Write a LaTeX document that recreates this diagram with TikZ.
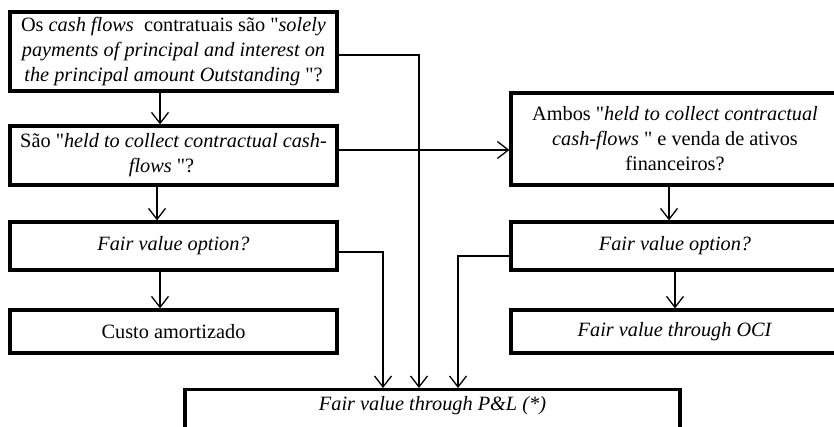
\documentclass[tikz,border=0pt]{standalone}
\usepackage{fontspec}
\setmainfont{Liberation Serif}
\usetikzlibrary{arrows.meta}
\newcommand{\qq}{\textquotedbl}
\begin{document}
\begin{tikzpicture}[x=1pt,y=-1pt,
  box/.style={draw, line width=3.2pt, minimum width=327pt, inner sep=0pt,
    align=center, font=\fontsize{20.3}{25}\selectfont},
  conn/.style={line width=1.3pt},
  arr/.style={line width=1.3pt, -{Straight Barb[length=11pt,width=17pt,line width=1.3pt]}}]
\useasboundingbox (0,0) rectangle (834,427);
\clip (0,0) rectangle (834,427);
% left column
\node[box, minimum height=79pt] (b1) at (173.5,51.5)
  {Os \textit{cash flows}\ \ contratuais são \qq\textit{solely}\\
   \textit{payments of principal and interest on}\\
   \textit{the principal amount Outstanding} \qq?};
\node[box, minimum height=59pt] (b2) at (173.5,155.5)
  {São \qq\textit{held to collect contractual cash-}\\
   \textit{flows} \qq?\hspace*{24pt}};
\node[box, minimum height=48pt] (fl) at (173.5,246) {\textit{Fair value option?}};
\node[box, minimum height=43pt] (ca) at (173.5,331.5) {Custo amortizado};
% right column
\node[box, minimum width=328pt, minimum height=92pt] (b3) at (675,139)
  {Ambos \qq\textit{held to collect contractual}\\
   \textit{cash-flows} \qq\ e venda de ativos\\
   financeiros?};
\node[box, minimum width=328pt, minimum height=48pt] (fr) at (675,246) {\textit{Fair value option?}};
\node[box, minimum width=328pt, minimum height=43pt] (oci) at (675,331.5) {\textit{Fair value through OCI}};
% bottom
\node[box, minimum width=495pt, anchor=north, inner ysep=6pt, text height=15pt, text depth=30pt]
  (pl) at (432.5,388) {\textit{Fair value through P\&L (*)}};
% connectors
\draw[arr] ([xshift=-13.5pt]b1.south) -- ([xshift=-13.5pt]b2.north);
\draw[arr] ([yshift=-3.5pt]b1.east) -| ([xshift=-13.5pt]pl.north);
\draw[arr] ([yshift=5.5pt]b2.east) -- ([yshift=5.5pt]b2.east -| b3.west);
\draw[arr] ([xshift=-16.5pt]b2.south) -- ([xshift=-16.5pt]fl.north);
\draw[arr] ([xshift=-13.5pt]fl.south) -- ([xshift=-13.5pt]ca.north);
\draw[arr] ([yshift=-6pt]fl.east) -| ([xshift=-49.5pt]pl.north);
\draw[arr] ([xshift=-6pt]b3.south) -- ([xshift=-6pt]fr.north);
\draw[arr] (fr.south) -- (oci.north);
\draw[arr] ([yshift=-10pt]fr.west) -| ([xshift=25.5pt]pl.north);
\end{tikzpicture}
\end{document}
